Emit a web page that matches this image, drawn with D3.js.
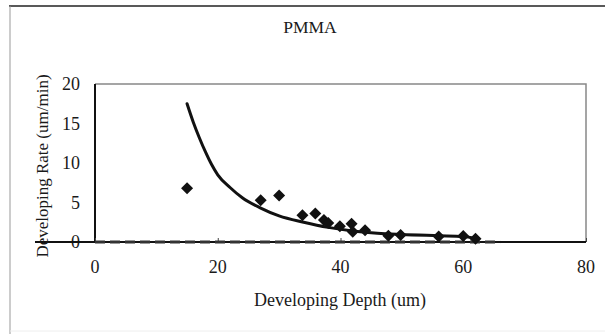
<!DOCTYPE html>
<html><head><meta charset="utf-8">
<script src="https://cdn.jsdelivr.net/npm/d3@7"></script>
<style>html,body{margin:0;padding:0;background:#fff;}svg{display:block;}</style>
</head><body>
<svg id="c" width="605" height="334"></svg>
<script>
const title = "PMMA";
const xLabel = "Developing Depth (um)";
const yLabel = "Developing Rate (um/min)";
const xTicks = [0, 20, 40, 60, 80];
const yTicks = [0, 5, 10, 15, 20];
// measured points (diamonds)
const pointDepth = [15, 27, 30, 33.8, 35.9, 37.3, 38, 39.9, 41.8, 42, 44, 47.8, 49.8, 56, 60, 62];
const pointRate  = [6.8, 5.3, 5.9, 3.4, 3.6, 2.8, 2.4, 2.0, 2.3, 1.3, 1.5, 0.8, 0.9, 0.7, 0.75, 0.4];
// simulated curve
const curveDepth = [15, 16, 17, 18, 19, 20, 22, 24, 27, 30, 34, 38, 42, 46, 50, 56, 60, 62];
const curveRate  = [17.5, 15.2, 13.2, 11.4, 9.8, 8.5, 6.9, 5.6, 4.3, 3.3, 2.5, 1.85, 1.4, 1.1, 0.95, 0.8, 0.7, 0.45];
// zero baseline series (dashed)
const zeroDepth = [0, 66];
const zeroRate = [0, 0];

const svg = d3.select("#c");
const font = "'Liberation Serif', 'Times New Roman', serif";
const x = d3.scaleLinear().domain([0, 80]).range([95, 586]);
const y = d3.scaleLinear().domain([0, 20]).range([242, 84]);

// outer frame
svg.append("line").attr("x1", 9).attr("x2", 605).attr("y1", 6).attr("y2", 6).attr("stroke", "#222").attr("stroke-width", 1.5);
svg.append("line").attr("x1", 10).attr("x2", 10).attr("y1", 6).attr("y2", 334).attr("stroke", "#999").attr("stroke-width", 1);
svg.append("line").attr("x1", 10).attr("x2", 605).attr("y1", 331).attr("y2", 331).attr("stroke", "#eee").attr("stroke-width", 1);

// title
svg.append("text").attr("x", 310).attr("y", 33).attr("text-anchor", "middle")
  .attr("font-family", font).attr("font-size", 17.5).attr("fill", "#1a1a1a").text(title);

// plot border: top & right gray
svg.append("path").attr("d", `M${x(0)},${y(20)}H${x(80)}V${y(0)}`).attr("fill", "none").attr("stroke", "#888").attr("stroke-width", 1.5);
// left axis black
svg.append("line").attr("x1", x(0)).attr("x2", x(0)).attr("y1", y(20)).attr("y2", y(0)).attr("stroke", "#111").attr("stroke-width", 2);

// y tick labels
svg.append("g").selectAll("text").data(yTicks).join("text")
  .attr("x", 80).attr("y", d => y(d)).attr("dy", "0.35em").attr("text-anchor", "end")
  .attr("font-family", font).attr("font-size", 18).attr("fill", "#1a1a1a").text(d => d);

// x axis (bottom) with inside ticks
const xAxis = d3.axisBottom(x).tickValues(xTicks).tickSize(-4).tickSizeOuter(0).tickFormat("");
const gx = svg.append("g").attr("transform", `translate(0,${y(0)})`).call(xAxis);
gx.select(".domain").remove();
gx.selectAll(".tick line").attr("stroke", "#444");
svg.append("line").attr("x1", 35).attr("x2", x(80)).attr("y1", y(0)).attr("y2", y(0)).attr("stroke", "#111").attr("stroke-width", 2.2);
svg.append("g").selectAll("text").data(xTicks).join("text")
  .attr("x", d => x(d)).attr("y", 273).attr("text-anchor", "middle")
  .attr("font-family", font).attr("font-size", 18).attr("fill", "#1a1a1a").text(d => d);

// dashed zero series
const line = d3.line().x(d => x(d[0])).y(d => y(d[1]));
svg.append("path").datum(d3.zip(zeroDepth, zeroRate)).attr("d", line)
  .attr("fill", "none").attr("stroke", "#333").attr("stroke-width", 3).attr("stroke-dasharray", "10,5");

// axis labels
svg.append("text").attr("x", 340).attr("y", 306).attr("text-anchor", "middle")
  .attr("font-family", font).attr("font-size", 18).attr("fill", "#1a1a1a").text(xLabel);
svg.append("text").attr("transform", "translate(48,166) rotate(-90)").attr("text-anchor", "middle")
  .attr("font-family", font).attr("font-size", 17).attr("fill", "#1a1a1a").text(yLabel);

// curve
svg.append("path").datum(d3.zip(curveDepth, curveRate))
  .attr("d", line.curve(d3.curveMonotoneX))
  .attr("fill", "none").attr("stroke", "#111").attr("stroke-width", 3).attr("stroke-linecap", "round");

// diamonds
const sym = d3.symbol().type(d3.symbolSquare).size(72);
svg.append("g").selectAll("path").data(d3.zip(pointDepth, pointRate)).join("path")
  .attr("d", sym).attr("transform", d => `translate(${x(d[0])},${y(d[1])}) rotate(45)`)
  .attr("fill", "#111");
</script>
</body></html>
